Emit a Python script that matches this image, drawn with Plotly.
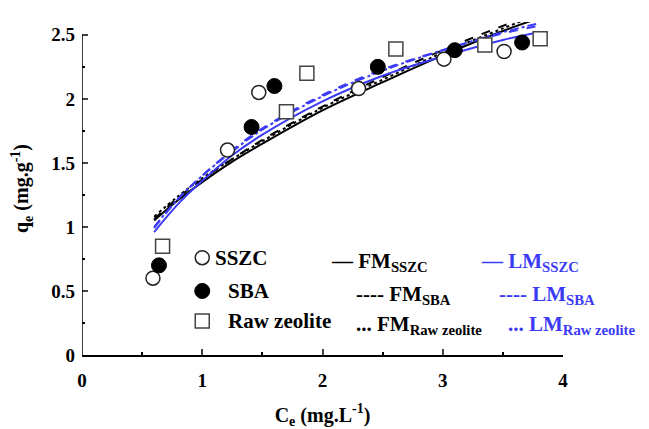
import plotly.graph_objects as go

sszc_x = [0.59, 1.21, 1.47, 2.30, 3.01, 3.51]
sszc_y = [0.60, 1.60, 2.05, 2.08, 2.31, 2.37]
sba_x = [0.64, 1.41, 1.60, 2.46, 3.10, 3.66]
sba_y = [0.70, 1.78, 2.10, 2.25, 2.38, 2.44]
raw_x = [0.67, 1.70, 1.87, 2.61, 3.35, 3.81]
raw_y = [0.85, 1.90, 2.20, 2.39, 2.42, 2.47]

# ---- model curves ----
curve_x = [0.6, 0.8, 1.0, 1.25, 1.5, 2.0, 2.5, 3.0, 3.5, 3.8]
fm_sszc = [1.05, 1.21, 1.35, 1.51, 1.65, 1.91, 2.13, 2.34, 2.53, 2.63]
fm_sba = [1.06, 1.23, 1.37, 1.53, 1.68, 1.94, 2.17, 2.38, 2.57, 2.67]
fm_raw = [1.08, 1.24, 1.38, 1.53, 1.67, 1.93, 2.15, 2.36, 2.55, 2.66]
lm_sszc = [0.96, 1.18, 1.36, 1.56, 1.72, 1.98, 2.18, 2.33, 2.46, 2.52]
lm_sba = [0.99, 1.22, 1.40, 1.60, 1.77, 2.03, 2.23, 2.38, 2.51, 2.57]
lm_raw = [1.00, 1.22, 1.40, 1.59, 1.76, 2.02, 2.22, 2.38, 2.52, 2.59]

x_ticks = [0, 1, 2, 3, 4]
y_ticks = [0, 0.5, 1, 1.5, 2, 2.5]

BLUE = "#3b3bf5"
FONT = "Liberation Serif"

fig = go.Figure()

curves = [
    (fm_sszc, "black", "solid"),
    (fm_sba, "black", "dash"),
    (fm_raw, "black", "dot"),
    (lm_sszc, BLUE, "solid"),
    (lm_sba, BLUE, "dash"),
    (lm_raw, BLUE, "dashdot"),
]
for ys, col, dash in curves:
    fig.add_trace(go.Scatter(x=curve_x, y=ys, mode="lines", line_shape="spline",
                             line=dict(color=col, width=2, dash=dash),
                             showlegend=False, hoverinfo="skip"))

fig.add_trace(go.Scatter(x=sszc_x, y=sszc_y, mode="markers", showlegend=False,
                         marker=dict(symbol="circle", size=14, color="white",
                                     line=dict(color="#222", width=1.5))))
fig.add_trace(go.Scatter(x=sba_x, y=sba_y, mode="markers", showlegend=False,
                         marker=dict(symbol="circle", size=15, color="black",
                                     line=dict(color="black", width=1))))
fig.add_trace(go.Scatter(x=raw_x, y=raw_y, mode="markers", showlegend=False,
                         marker=dict(symbol="square", size=14, color="white",
                                     line=dict(color="#444", width=1.5))))

# y axis line only up to 2.5
fig.add_shape(type="line", xref="x", yref="y", x0=0, x1=0, y0=0, y1=2.5,
              line=dict(color="black", width=1.5))

# legend markers
leg_rows = [0.76, 0.50, 0.265]
fig.add_shape(type="circle", xref="x", yref="y", xsizemode="pixel", ysizemode="pixel",
              xanchor=1.0, yanchor=leg_rows[0], x0=-7, x1=7, y0=-7, y1=7,
              line=dict(color="#222", width=1.5), fillcolor="white")
fig.add_shape(type="circle", xref="x", yref="y", xsizemode="pixel", ysizemode="pixel",
              xanchor=1.0, yanchor=leg_rows[1], x0=-7.5, x1=7.5, y0=-7.5, y1=7.5,
              line=dict(color="black", width=1), fillcolor="black")
fig.add_shape(type="rect", xref="x", yref="y", xsizemode="pixel", ysizemode="pixel",
              xanchor=1.0, yanchor=leg_rows[2], x0=-7, x1=7, y0=-7, y1=7,
              line=dict(color="#444", width=1.5), fillcolor="white")

def leg(x, y, text, color="black"):
    fig.add_annotation(x=x, y=y, xref="x", yref="y", text=text, showarrow=False,
                       xanchor="left", yanchor="middle",
                       font=dict(family=FONT, size=21, color=color, weight="bold"))

leg(1.09, leg_rows[0], "SSZC")
leg(1.20, leg_rows[1], "SBA")
leg(1.20, leg_rows[2], "Raw zeolite")
leg(2.05, leg_rows[0] - 0.03, "— FM<sub>SSZC</sub>")
leg(2.26, leg_rows[1] - 0.03, "---- FM<sub>SBA</sub>")
leg(2.26, leg_rows[2] - 0.03, "... FM<sub>Raw zeolite</sub>")
leg(3.30, leg_rows[0] - 0.03, "— LM<sub>SSZC</sub>", BLUE)
leg(3.45, leg_rows[1] - 0.03, "---- LM<sub>SBA</sub>", BLUE)
leg(3.53, leg_rows[2] - 0.03, "... LM<sub>Raw zeolite</sub>", BLUE)

fig.update_layout(
    width=641, height=421,
    margin=dict(l=74, r=86, t=14, b=74),
    plot_bgcolor="white", paper_bgcolor="white",
    font=dict(family=FONT, color="black"),
    xaxis=dict(range=[0, 4], tickvals=x_ticks, ticks="inside", ticklen=6,
               tickwidth=1.5, showline=True, linecolor="black", linewidth=1.5,
               showgrid=False, zeroline=False, automargin=False,
               ticklabelstandoff=7,
               minor=dict(dtick=0.5, ticks="inside", ticklen=3, tickwidth=1.5, tickcolor="black"),
               tickfont=dict(family=FONT, size=19, weight="bold"),
               title=dict(text="C<sub>e</sub> (mg.L<sup>-1</sup>)", standoff=22,
                          font=dict(family=FONT, size=20, weight="bold"))),
    yaxis=dict(range=[0, 2.6], tickvals=y_ticks, ticks="inside", ticklen=6,
               tickwidth=1.5, showline=False, showgrid=False, zeroline=False,
               automargin=False, ticklabelstandoff=6,
               minor=dict(tickvals=[0.25, 0.75, 1.25, 1.75, 2.25], ticks="inside",
                          ticklen=3, tickwidth=1.5, tickcolor="black"),
               tickfont=dict(family=FONT, size=19, weight="bold"),
               title=dict(text="q<sub>e</sub> (mg.g<sup>-1</sup>)", standoff=22,
                          font=dict(family=FONT, size=20, weight="bold"))),
)

fig.write_html("out.html")
